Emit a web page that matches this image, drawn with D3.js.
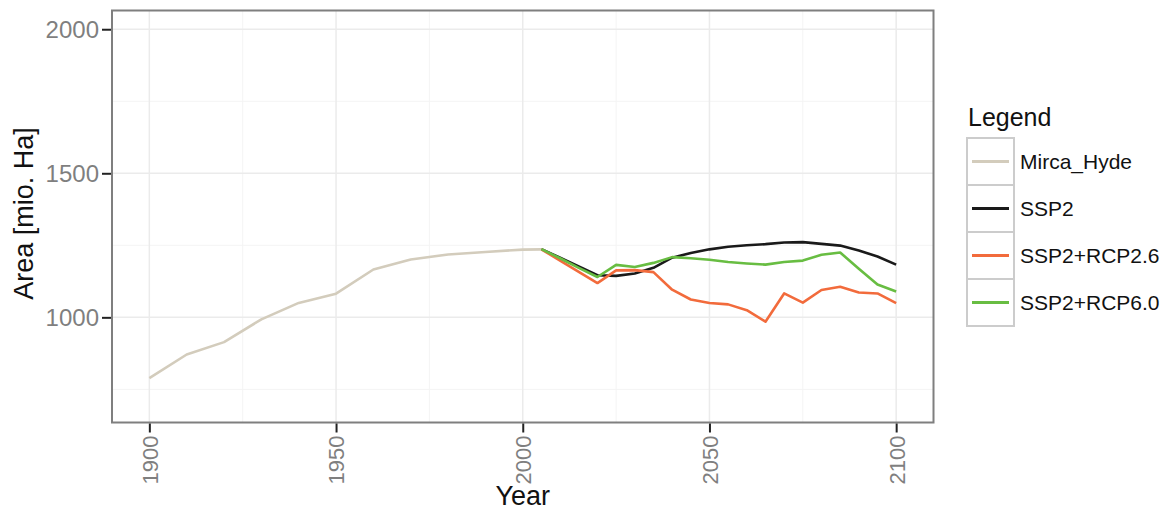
<!DOCTYPE html>
<html>
<head>
<meta charset="utf-8">
<script src="https://cdn.jsdelivr.net/npm/d3@7"></script>
<style>
  body { margin: 0; background: #ffffff; }
  svg text { font-family: "Liberation Sans", Arial, sans-serif; }
</style>
</head>
<body>
<div id="chart"></div>
<script>
// Historical series (Mirca / Hyde)
const histYears = [1900, 1910, 1920, 1930, 1940, 1950, 1960, 1970, 1980, 1990, 2000, 2005];
const mircaHyde = [789, 871, 914, 993, 1050, 1082, 1166, 1201, 1218, 1227, 1235, 1236];

// Scenario series
const scenYears = [2005, 2010, 2015, 2020, 2025, 2030, 2035, 2040, 2045, 2050,
                   2055, 2060, 2065, 2070, 2075, 2080, 2085, 2090, 2095, 2100];
const ssp2   = [1237, 1207, 1177, 1146, 1144, 1152, 1172, 1207, 1223, 1236,
                1245, 1250, 1254, 1260, 1261, 1255, 1249, 1232, 1211, 1183];
const rcp26  = [1236, 1197, 1158, 1119, 1163, 1164, 1157, 1096, 1062, 1050,
                1045, 1025, 985, 1083, 1051, 1095, 1106, 1086, 1083, 1049];
const rcp60  = [1237, 1205, 1172, 1140, 1182, 1175, 1189, 1209, 1205, 1200,
                1192, 1187, 1183, 1192, 1197, 1217, 1225, 1169, 1114, 1090];

const seriesNames = ['Mirca_Hyde', 'SSP2', 'SSP2+RCP2.6', 'SSP2+RCP6.0'];
const seriesColors = ['#d3ccbc', '#1a1a1a', '#f26b3c', '#68bd42'];

const xTicks = [1900, 1950, 2000, 2050, 2100];
const xMinor = [1925, 1975, 2025, 2075];
const yTicks = [1000, 1500, 2000];
const yMinor = [750, 1250, 1750];
const xLimits = [1900, 2100];
const yLimits = [700, 2000];

const width = 1167, height = 510;
const panel = { left: 112, right: 933.5, top: 10.5, bottom: 422.5 };

// ggplot-like 5% expansion
const expand = (lim) => {
    const d = (lim[1] - lim[0]) * 0.05;
    return [lim[0] - d, lim[1] + d];
};

const x = d3.scaleLinear().domain(expand(xLimits)).range([panel.left, panel.right]);
const y = d3.scaleLinear().domain(expand(yLimits)).range([panel.bottom, panel.top]);

const svg = d3.select('#chart')
    .append('svg')
    .attr('width', width)
    .attr('height', height);

// Panel background
svg.append('rect')
    .attr('x', panel.left).attr('y', panel.top)
    .attr('width', panel.right - panel.left)
    .attr('height', panel.bottom - panel.top)
    .attr('fill', '#ffffff');

// Grid lines
const grid = svg.append('g');
grid.selectAll('.xminor').data(xMinor).enter().append('line')
    .attr('x1', d => x(d)).attr('x2', d => x(d))
    .attr('y1', panel.top).attr('y2', panel.bottom)
    .attr('stroke', '#f4f4f4').attr('stroke-width', 1);
grid.selectAll('.yminor').data(yMinor).enter().append('line')
    .attr('x1', panel.left).attr('x2', panel.right)
    .attr('y1', d => y(d)).attr('y2', d => y(d))
    .attr('stroke', '#f4f4f4').attr('stroke-width', 1);
grid.selectAll('.xmajor').data(xTicks).enter().append('line')
    .attr('x1', d => x(d)).attr('x2', d => x(d))
    .attr('y1', panel.top).attr('y2', panel.bottom)
    .attr('stroke', '#ebebeb').attr('stroke-width', 1.5);
grid.selectAll('.ymajor').data(yTicks).enter().append('line')
    .attr('x1', panel.left).attr('x2', panel.right)
    .attr('y1', d => y(d)).attr('y2', d => y(d))
    .attr('stroke', '#ebebeb').attr('stroke-width', 1.5);

// Lines
const line = d3.line().x(d => x(d[0])).y(d => y(d[1]));
const allSeries = [
    d3.zip(histYears, mircaHyde),
    d3.zip(scenYears, ssp2),
    d3.zip(scenYears, rcp26),
    d3.zip(scenYears, rcp60)
];
svg.append('g').selectAll('path')
    .data(allSeries)
    .enter()
    .append('path')
    .attr('d', line)
    .attr('fill', 'none')
    .attr('stroke', (d, i) => seriesColors[i])
    .attr('stroke-width', 2.6)
    .attr('stroke-linejoin', 'round');

// Panel border
svg.append('rect')
    .attr('x', panel.left).attr('y', panel.top)
    .attr('width', panel.right - panel.left)
    .attr('height', panel.bottom - panel.top)
    .attr('fill', 'none')
    .attr('stroke', '#7f7f7f')
    .attr('stroke-width', 2);

// Y axis
const yAxis = svg.append('g')
    .attr('transform', `translate(${panel.left - 1},0)`)
    .call(d3.axisLeft(y).tickValues(yTicks).tickSize(9).tickPadding(3).tickFormat(d3.format('d')));
yAxis.select('.domain').remove();
yAxis.selectAll('.tick line').attr('stroke', '#222').attr('stroke-width', 2);
yAxis.selectAll('.tick text')
    .attr('fill', '#7f7f7f')
    .attr('font-size', 24)
    .attr('dy', '0.36em')
    .style('font-family', '"Liberation Sans", Arial, sans-serif');

// X axis
const xAxis = svg.append('g')
    .attr('transform', `translate(0,${panel.bottom + 1})`)
    .call(d3.axisBottom(x).tickValues(xTicks).tickSize(9).tickFormat(d3.format('d')));
xAxis.select('.domain').remove();
xAxis.selectAll('.tick line').attr('stroke', '#222').attr('stroke-width', 2);
xAxis.selectAll('.tick text')
    .attr('fill', '#7f7f7f')
    .attr('font-size', 22)
    .attr('transform', 'rotate(-90)')
    .attr('text-anchor', 'end')
    .attr('x', -12)
    .attr('y', 0)
    .attr('dy', '0.36em')
    .style('font-family', '"Liberation Sans", Arial, sans-serif');

// Axis titles
svg.append('text')
    .attr('x', (panel.left + panel.right) / 2)
    .attr('y', 505)
    .attr('text-anchor', 'middle')
    .attr('font-size', 27)
    .attr('fill', '#111')
    .text('Year');

svg.append('text')
    .attr('transform', `translate(33,${(panel.top + panel.bottom) / 2 - 3}) rotate(-90)`)
    .attr('text-anchor', 'middle')
    .attr('font-size', 27)
    .attr('fill', '#111')
    .text('Area [mio. Ha]');

// Legend
const legend = svg.append('g').attr('transform', 'translate(967,138)');
legend.append('text')
    .attr('x', 1).attr('y', -12)
    .attr('font-size', 25)
    .attr('fill', '#111')
    .text('Legend');

const keyW = 47, keyH = 47;
const keys = legend.selectAll('.key')
    .data(seriesNames)
    .enter()
    .append('g')
    .attr('transform', (d, i) => `translate(0,${i * keyH})`);
keys.append('rect')
    .attr('width', keyW).attr('height', keyH)
    .attr('fill', '#ffffff')
    .attr('stroke', '#cccccc')
    .attr('stroke-width', 2);
keys.append('line')
    .attr('x1', 5).attr('x2', keyW - 5)
    .attr('y1', keyH / 2).attr('y2', keyH / 2)
    .attr('stroke', (d, i) => seriesColors[i])
    .attr('stroke-width', 3);
keys.append('text')
    .attr('x', keyW + 6)
    .attr('y', keyH / 2)
    .attr('dy', '0.36em')
    .attr('font-size', 21)
    .attr('fill', '#111')
    .text(d => d);
</script>
</body>
</html>
